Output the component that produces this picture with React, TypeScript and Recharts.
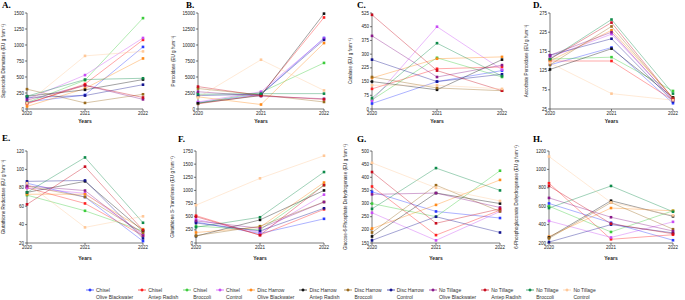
import { LineChart, Line, XAxis, YAxis } from 'recharts'

const years = ['2020', '2021', '2022']

const treatments = [
  { key: 'cOB', tillage: 'Chisel', crop: 'Olive Blackwater', color: '#2b3cff' },
  { key: 'cAR', tillage: 'Chisel', crop: 'Antep Radish', color: '#ff2020' },
  { key: 'cBR', tillage: 'Chisel', crop: 'Broccoli', color: '#3ccc3c' },
  { key: 'cCO', tillage: 'Chisel', crop: 'Control', color: '#c94cf5' },
  { key: 'dOB', tillage: 'Disc Harrow', crop: 'Olive Blackwater', color: '#ff8a1a' },
  { key: 'dAR', tillage: 'Disc Harrow', crop: 'Antep Radish', color: '#111111' },
  { key: 'dBR', tillage: 'Disc Harrow', crop: 'Broccoli', color: '#9a6a1c' },
  { key: 'dCO', tillage: 'Disc Harrow', crop: 'Control', color: '#14148f' },
  { key: 'nOB', tillage: 'No Tillage', crop: 'Olive Blackwater', color: '#8a1a8a' },
  { key: 'nAR', tillage: 'No Tillage', crop: 'Antep Radish', color: '#c80c1e' },
  { key: 'nBR', tillage: 'No Tillage', crop: 'Broccoli', color: '#0e8a4a' },
  { key: 'nCO', tillage: 'No Tillage', crop: 'Control', color: '#ffc898' },
]

// values per treatment (same order as treatments), for 2020, 2021, 2022
const sodValues = [
  [110, 220, 970], [80, 390, 1080], [100, 450, 1420], [150, 530, 1110],
  [40, 320, 790], [200, 300, 460], [310, 95, 230], [180, 210, 380],
  [140, 370, 150], [90, 370, 180], [200, 460, 480], [90, 830, 900],
]
const podValues = [
  [1000, 2300, 11100], [800, 2200, 14300], [900, 2600, 7200], [1100, 2700, 11000],
  [1900, 700, 10300], [900, 2100, 14900], [3200, 2200, 1100], [2100, 2300, 10800],
  [2700, 2000, 1600], [3500, 2100, 1500], [2300, 2400, 2400], [1800, 7700, 2900],
]
const catValues = [
  [30, 150, 210], [110, 220, 230], [50, 280, 175], [45, 450, 215],
  [170, 275, 285], [150, 105, 270], [175, 115, 100], [270, 150, 190],
  [400, 175, 240], [515, 210, 100], [60, 360, 180], [130, 130, 110],
]
const apxValues = [
  [140, 185, 40], [150, 150, 48], [155, 160, 72], [160, 220, 50],
  [150, 230, 55], [128, 182, 55], [140, 240, 52], [165, 208, 45],
  [165, 225, 48], [155, 250, 52], [155, 258, 65], [145, 65, 48],
]
const grValues = [
  [85, 70, 22], [80, 63, 28], [72, 55, 33], [80, 74, 30],
  [73, 73, 35], [75, 87, 33], [82, 70, 31], [87, 88, 25],
  [82, 77, 28], [62, 103, 34], [75, 113, 42], [85, 37, 49],
]
const gstValues = [
  [400, 180, 460], [520, 150, 640], [320, 250, 1100], [450, 200, 920],
  [200, 300, 1150], [130, 440, 1000], [140, 320, 780], [380, 230, 660],
  [420, 280, 780], [500, 150, 1100], [300, 490, 1350], [720, 1230, 1660],
]
const g6pdValues = [
  [345, 270, 245], [365, 180, 275], [300, 250, 425], [265, 160, 270],
  [205, 295, 390], [175, 340, 300], [190, 370, 270], [160, 250, 190],
  [335, 340, 285], [420, 225, 280], [280, 435, 350], [455, 360, 310],
]
const pgdValues = [
  [630, 420, 230], [850, 240, 290], [600, 320, 550], [440, 260, 430],
  [270, 580, 550], [260, 660, 490], [250, 640, 350], [210, 400, 310],
  [690, 480, 330], [820, 410, 300], [580, 820, 540], [1140, 640, 500],
]

const sodTicks = [0, 250, 500, 750, 1000, 1250, 1500]
const podTicks = [0, 2500, 5000, 7500, 10000, 12500, 15000]
const catTicks = [0, 75, 150, 225, 300, 375, 450, 525]
const apxTicks = [25, 75, 125, 175, 225, 275]
const grTicks = [20, 40, 60, 80, 100, 120]
const gstTicks = [0, 250, 500, 750, 1000, 1250, 1500, 1750]
const g6pdTicks = [150, 200, 250, 300, 350, 400, 450, 500]
const pgdTicks = [200, 400, 600, 800, 1000, 1200]

const panels = [
  { letter: 'A.', label: 'Superoxide Dismutase (EU g fwm⁻¹)', values: sodValues, ticks: sodTicks },
  { letter: 'B.', label: 'Peroxidase (EU g fwm⁻¹)', values: podValues, ticks: podTicks },
  { letter: 'C.', label: 'Catalase (EU g fwm⁻¹)', values: catValues, ticks: catTicks },
  { letter: 'D.', label: 'Ascorbate Peroxidase (EU g fwm⁻¹)', values: apxValues, ticks: apxTicks },
  { letter: 'E.', label: 'Glutathione Reductase (EU g fwm⁻¹)', values: grValues, ticks: grTicks },
  { letter: 'F.', label: 'Glutathione S-Transferase (EU g fwm⁻¹)', values: gstValues, ticks: gstTicks },
  { letter: 'G.', label: 'Glucose-6-Phosphate Dehydrogenase (EU g fwm⁻¹)', values: g6pdValues, ticks: g6pdTicks },
  { letter: 'H.', label: '6-Phosphogluconate Dehydrogenase (EU g fwm⁻¹)', values: pgdValues, ticks: pgdTicks },
]

// cell geometry: left, top, width, height, y-axis width, right margin, top margin, x-axis height
const layout = [
  { left: 0, top: 0, w: 170, h: 125, axisW: 27, right: 27, mt: 13, xh: 16, lx: 7, tx: 2, ty: 0 },
  { left: 170, top: 0, w: 170, h: 125, axisW: 28, right: 16, mt: 13, xh: 16, lx: 7, tx: 16, ty: 0 },
  { left: 340, top: 0, w: 170, h: 125, axisW: 32, right: 8, mt: 13, xh: 16, lx: 14, tx: 17, ty: 0 },
  { left: 510, top: 0, w: 175, h: 125, axisW: 40, right: 12, mt: 13, xh: 16, lx: 20, tx: 23, ty: 0 },
  { left: 0, top: 125, w: 170, h: 137, axisW: 27, right: 27, mt: 26, xh: 19, lx: 7, tx: 2, ty: 8 },
  { left: 170, top: 125, w: 170, h: 137, axisW: 26, right: 16, mt: 26, xh: 19, lx: 6, tx: 8, ty: 9 },
  { left: 340, top: 125, w: 170, h: 137, axisW: 32, right: 10, mt: 26, xh: 19, lx: 9, tx: 17, ty: 9 },
  { left: 510, top: 125, w: 175, h: 137, axisW: 39, right: 12, mt: 26, xh: 19, lx: 10, tx: 23, ty: 9 },
]

const font = 'Liberation Sans, Arial, sans-serif'

function buildRows(values: number[][]) {
  return years.map((year, i) => {
    const row: Record<string, string | number> = { year }
    treatments.forEach((t, j) => {
      row[t.key] = values[j][i]
    })
    return row
  })
}

const squareDot = (color: string) => (props: any) => {
  const { cx, cy, index } = props
  if (cx == null || cy == null) return <g key={index} />
  return <rect key={index} x={cx - 1.3} y={cy - 1.3} width={2.6} height={2.6} fill={color} />
}

function Panel({ idx }: { idx: number }) {
  const p = panels[idx]
  const l = layout[idx]
  const ticks = p.ticks
  return (
    <div style={{ position: 'absolute', left: l.left, top: l.top, width: l.w, height: l.h }}>
      <div
        style={{
          position: 'absolute',
          left: l.tx,
          top: l.ty,
          fontFamily: 'Liberation Serif, serif',
          fontWeight: 'bold',
          fontSize: 9,
          lineHeight: '10px',
        }}
      >
        {p.letter}
      </div>
      <LineChart
        width={l.w}
        height={l.h}
        data={buildRows(p.values)}
        margin={{ top: l.mt, right: l.right, bottom: 0, left: 0 }}
      >
        <XAxis
          dataKey="year"
          height={l.xh}
          tickSize={2}
          tickMargin={1}
          stroke="#222"
          strokeWidth={0.6}
          tick={{ fontSize: 4.5, fill: '#222', fontFamily: font }}
          label={{ value: 'Years', position: 'insideBottom', offset: 2, fontSize: 5, fill: '#222', fontWeight: 'bold', fontFamily: font }}
        />
        <YAxis
          width={l.axisW}
          domain={[ticks[0], ticks[ticks.length - 1]]}
          ticks={ticks}
          interval={0}
          tickSize={2}
          tickMargin={1}
          stroke="#222"
          strokeWidth={0.6}
          tick={{ fontSize: 4.5, fill: '#222', fontFamily: font }}
          label={{
            value: p.label,
            angle: -90,
            position: 'insideLeft',
            offset: l.lx - 4,
            fontSize: 4.6,
            fill: '#222',
            fontFamily: font,
            style: { textAnchor: 'middle' },
          }}
        />
        {treatments.map((t) => (
          <Line
            key={t.key}
            type="linear"
            dataKey={t.key}
            stroke={t.color}
            strokeWidth={0.6}
            strokeOpacity={0.65}
            dot={squareDot(t.color)}
            activeDot={false}
            isAnimationActive={false}
          />
        ))}
      </LineChart>
    </div>
  )
}

function LegendRow() {
  return (
    <div
      style={{
        position: 'absolute',
        left: 86,
        top: 287,
        display: 'flex',
        gap: 5,
        fontFamily: font,
        fontSize: 5,
        lineHeight: '6.5px',
        color: '#333',
      }}
    >
      {treatments.map((t) => (
        <div key={t.key} style={{ display: 'flex', alignItems: 'flex-start' }}>
          <svg width={8} height={7} style={{ marginRight: 2 }}>
            <line x1={0} y1={3} x2={8} y2={3} stroke={t.color} strokeWidth={0.7} />
            <rect x={2.7} y={1.7} width={2.6} height={2.6} fill={t.color} transform="rotate(45 4 3)" />
          </svg>
          <div>
            <div>{t.tillage}</div>
            <div>{t.crop}</div>
          </div>
        </div>
      ))}
    </div>
  )
}

export default function App() {
  return (
    <div style={{ position: 'absolute', left: 0, top: 0, width: 685, height: 300, background: '#fff', overflow: 'hidden' }}>
      {panels.map((_, i) => (
        <Panel key={i} idx={i} />
      ))}
      <LegendRow />
    </div>
  )
}
